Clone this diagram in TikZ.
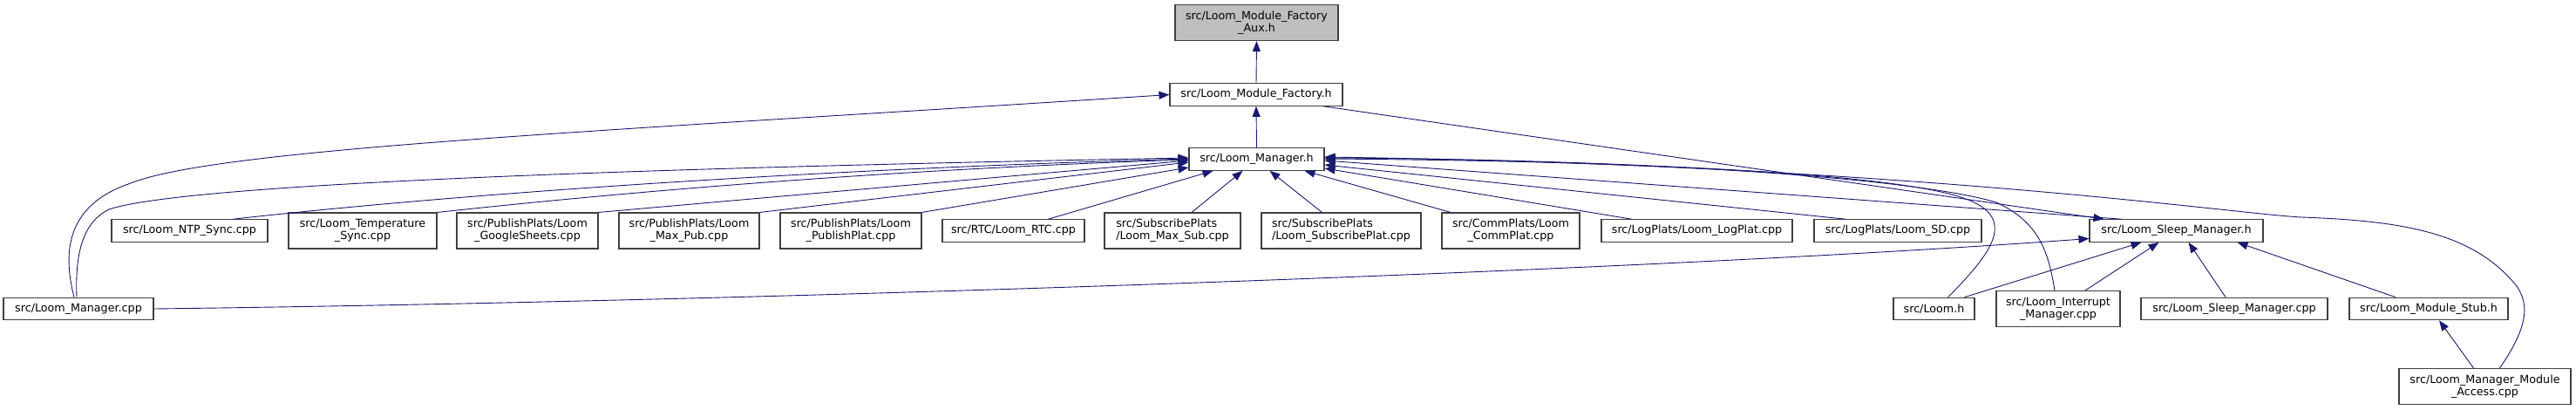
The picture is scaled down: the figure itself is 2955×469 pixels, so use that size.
\documentclass[tikz,border=0pt]{standalone}
\usepackage{fontspec}
\setmainfont{DejaVu Sans}
\usepackage{tikz}
\usetikzlibrary{arrows.meta}
\usepackage{xcolor}
\definecolor{edgeblue}{HTML}{191970}
\definecolor{fileframe}{HTML}{404040}
\definecolor{filegrey}{HTML}{BFBFBF}
\tikzset{
  file/.style={draw=fileframe, line width=1.1pt, fill=white, inner sep=0pt,
               align=center, minimum height=25.5pt,
               font=\fontsize{12.7}{14}\selectfont},
  twoline/.style={minimum height=41pt},
  thisfile/.style={file, fill=filegrey},
  inc/.style={-{Triangle[length=12pt, width=9pt]}, line width=0.9pt, draw=edgeblue},
}

\begin{document}
\begin{tikzpicture}[x=1pt, y=-1pt]
\useasboundingbox (0,0) rectangle (2955,469);
% upper chain
\node[thisfile, twoline, minimum width=187pt] (aux) at (1441.5,26) {src/Loom\_Module\_Factory\\\_Aux.h};
\node[file, minimum width=198pt] (fac) at (1441,108.5) {src/Loom\_Module\_Factory.h};
\node[file, minimum width=155pt] (mgr) at (1441.5,182.5) {src/Loom\_Manager.h};
% files that include the manager
\node[file, minimum width=179pt] (ntp) at (217.5,264.5) {src/Loom\_NTP\_Sync.cpp};
\node[file, twoline, minimum width=170pt] (temp) at (416,264.5) {src/Loom\_Temperature\\\_Sync.cpp};
\node[file, twoline, minimum width=162pt] (gsheets) at (605,264.5) {src/PublishPlats/Loom\\\_GoogleSheets.cpp};
\node[file, twoline, minimum width=161pt] (maxpub) at (790.5,264.5) {src/PublishPlats/Loom\\\_Max\_Pub.cpp};
\node[file, twoline, minimum width=162pt] (pubplat) at (976,264.5) {src/PublishPlats/Loom\\\_PublishPlat.cpp};
\node[file, minimum width=163pt] (rtc) at (1162.5,264.5) {src/RTC/Loom\_RTC.cpp};
\node[file, twoline, minimum width=156pt, align=left] (maxsub) at (1345,264.5) {src/SubscribePlats\\/Loom\_Max\_Sub.cpp};
\node[file, twoline, minimum width=183pt, align=left] (subplat) at (1538.5,264.5) {src/SubscribePlats\\/Loom\_SubscribePlat.cpp};
\node[file, twoline, minimum width=158pt] (commplat) at (1733,264.5) {src/CommPlats/Loom\\\_CommPlat.cpp};
\node[file, minimum width=219pt] (logplat) at (1946.5,264.5) {src/LogPlats/Loom\_LogPlat.cpp};
\node[file, minimum width=192pt] (sd) at (2177,264.5) {src/LogPlats/Loom\_SD.cpp};
\node[file, minimum width=199pt] (sleeph) at (2496.5,264.5) {src/Loom\_Sleep\_Manager.h};
% lower rows
\node[file, minimum width=172pt] (mgrcpp) at (90,354) {src/Loom\_Manager.cpp};
\node[file, minimum width=93pt] (loomh) at (2218.5,354) {src/Loom.h};
\node[file, twoline, minimum width=142pt] (intr) at (2361,354) {src/Loom\_Interrupt\\\_Manager.cpp};
\node[file, minimum width=214pt] (sleepcpp) at (2563,354) {src/Loom\_Sleep\_Manager.cpp};
\node[file, minimum width=182pt] (stub) at (2786,354) {src/Loom\_Module\_Stub.h};
\node[file, twoline, minimum width=197pt] (access) at (2850.5,443) {src/Loom\_Manager\_Module\\\_Access.cpp};

% include edges
\draw[inc] (fac.north) -- (aux.south);
\draw[inc] (mgr.north) -- (fac.south);
\draw[inc] ([xshift=-5pt]mgrcpp.north) .. controls (72,290) and (75,235) .. (150,210) .. controls (250,170) and (700,150) .. (fac.west);
\draw[inc] ([xshift=77pt]fac.south) -- ([xshift=-83pt]sleeph.north);
\draw[inc] ([xshift=-2pt]mgrcpp.north) .. controls (86,290) and (95,255) .. (125,240) .. controls (200,215) and (600,195) .. ([yshift=1.5pt]mgr.west);
\draw[inc] ([xshift=50pt]ntp.north) .. controls (500,225) and (900,195) .. ([yshift=0.5pt]mgr.west);
\draw[inc] (temp.north east) .. controls (700,222) and (1000,195) .. ([yshift=-0.5pt]mgr.west);
\draw[inc] (gsheets.north east) -- ([yshift=-1.5pt]mgr.west);
\draw[inc] (maxpub.north east) -- ([yshift=-3.5pt]mgr.west);
\draw[inc] (pubplat.north east) -- ([yshift=-9.5pt]mgr.west);
\draw[inc] ([xshift=40pt]rtc.north) -- ([xshift=-50pt]mgr.south);
\draw[inc] ([xshift=22pt]maxsub.north) -- ([xshift=-16pt]mgr.south);
\draw[inc] ([xshift=-22pt]subplat.north) -- ([xshift=15pt]mgr.south);
\draw[inc] ([xshift=-69pt]commplat.north) -- ([xshift=55pt]mgr.south);
\draw[inc] ([xshift=-75pt]logplat.north) -- ([yshift=-10.5pt]mgr.east);
\draw[inc] ([xshift=-60pt]sd.north) -- ([yshift=-6.5pt]mgr.east);
\draw[inc] ([xshift=-63pt]sleeph.north) -- ([yshift=-1.5pt]mgr.east);
\draw[inc] ([xshift=16pt]loomh.north) .. controls (2285,290) and (2315,250) .. (2255,228) .. controls (2180,200) and (1900,185) .. ([yshift=0.5pt]mgr.east);
\draw[inc] ([xshift=-4pt]intr.north) .. controls (2350,290) and (2340,255) .. (2290,232) .. controls (2200,205) and (1900,183) .. ([yshift=1.5pt]mgr.east);
\draw[inc] ([xshift=17pt]access.north) .. controls (2900,375) and (2905,345) .. (2880,320) .. controls (2830,265) and (2750,253) .. (2640,249) .. controls (2560,245) and (2200,190) .. ([yshift=2.5pt]mgr.east);
\draw[inc] (mgrcpp.east) .. controls (900,345) and (1900,310) .. ([yshift=-9pt]sleeph.west);
\draw[inc] ([xshift=35pt]loomh.north) -- ([xshift=-40pt]sleeph.south);
\draw[inc] ([xshift=31pt]intr.north) -- ([xshift=-20pt]sleeph.south);
\draw[inc] ([xshift=-10pt]sleepcpp.north) -- ([xshift=14pt]sleeph.south);
\draw[inc] ([xshift=-38pt]stub.north) -- ([xshift=70pt]sleeph.south);
\draw[inc] ([xshift=-13pt]access.north) -- ([xshift=12pt]stub.south);
\end{tikzpicture}
\end{document}
